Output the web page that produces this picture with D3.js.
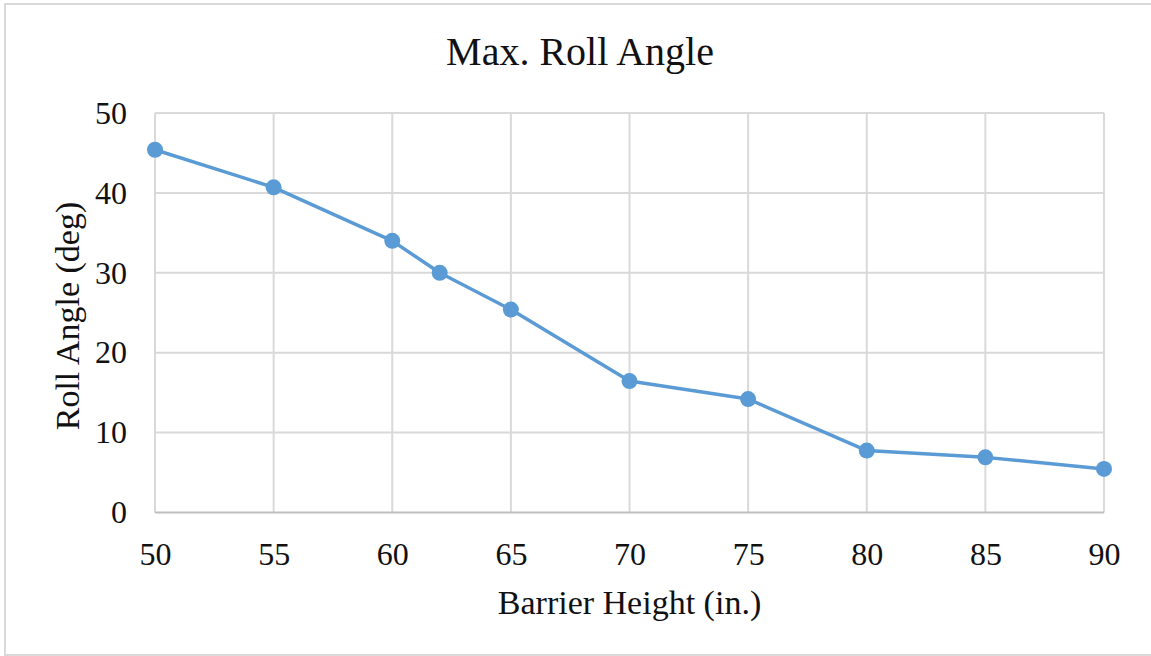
<!DOCTYPE html>
<html><head><meta charset="utf-8">
<script src="https://cdn.jsdelivr.net/npm/d3@7"></script>
<style>body{margin:0;background:#fff;} svg{display:block;} text{font-family:"Liberation Serif","Times New Roman","DejaVu Serif",serif;}</style>
</head><body>
<script>
const barrierHeight = [50, 55, 60, 62, 65, 70, 75, 80, 85, 90];
const rollAngle = [45.4, 40.7, 34.0, 30.0, 25.4, 16.45, 14.2, 7.75, 6.9, 5.45];
const xTicks = [50, 55, 60, 65, 70, 75, 80, 85, 90];
const yTicks = [0, 10, 20, 30, 40, 50];
const titleText = "Max. Roll Angle";
const xTitle = "Barrier Height (in.)";
const yTitle = "Roll Angle (deg)";

const W = 1151, H = 656;
const m = {left: 155, right: 1104, top: 113, bottom: 512.5};

const svg = d3.select("body").append("svg").attr("width", W).attr("height", H);
svg.append("rect").attr("x", 5).attr("y", 4).attr("width", W + 10).attr("height", H - 5)
  .attr("fill", "#fff").attr("stroke", "#d9d9d9").attr("stroke-width", 2);

const x = d3.scaleLinear().domain([50, 90]).range([m.left, m.right]);
const y = d3.scaleLinear().domain([0, 50]).range([m.bottom, m.top]);

const g = svg.append("g");
g.selectAll(".vg").data(xTicks).join("line")
  .attr("x1", d => x(d)).attr("x2", d => x(d)).attr("y1", m.top).attr("y2", m.bottom)
  .attr("stroke", "#d9d9d9").attr("stroke-width", 2);
g.selectAll(".hg").data(yTicks.filter(d => d > 0)).join("line")
  .attr("x1", m.left).attr("x2", m.right).attr("y1", d => y(d)).attr("y2", d => y(d))
  .attr("stroke", "#d9d9d9").attr("stroke-width", 2);
g.append("line").attr("x1", m.left).attr("x2", m.right).attr("y1", y(0)).attr("y2", y(0))
  .attr("stroke", "#bfbfbf").attr("stroke-width", 2);

const xAxis = svg.append("g").attr("transform", `translate(0,${y(0)})`)
  .call(d3.axisBottom(x).tickValues(xTicks).tickSize(0).tickPadding(30));
xAxis.select(".domain").remove();
xAxis.selectAll("text").attr("font-size", 32).attr("fill", "#111");
xAxis.attr("font-family", null);

const yAxis = svg.append("g").attr("transform", `translate(${m.left},0)`)
  .call(d3.axisLeft(y).tickValues(yTicks).tickSize(0).tickPadding(28));
yAxis.select(".domain").remove();
yAxis.selectAll("text").attr("font-size", 32).attr("fill", "#111");
yAxis.attr("font-family", null);

const line = d3.line().x((d, i) => x(barrierHeight[i])).y(d => y(d));
svg.append("path").datum(rollAngle).attr("d", line)
  .attr("fill", "none").attr("stroke", "#5b9bd5").attr("stroke-width", 3.5)
  .attr("stroke-linejoin", "round");
svg.selectAll(".pt").data(rollAngle).join("circle")
  .attr("cx", (d, i) => x(barrierHeight[i])).attr("cy", d => y(d)).attr("r", 8)
  .attr("fill", "#5b9bd5");

svg.append("text").attr("x", 580).attr("y", 65).attr("text-anchor", "middle")
  .attr("font-size", 40).attr("fill", "#111").text(titleText);
svg.append("text").attr("x", (m.left + m.right) / 2).attr("y", 614).attr("text-anchor", "middle")
  .attr("font-size", 34).attr("fill", "#111").text(xTitle);
svg.append("text").attr("transform", `translate(79,316) rotate(-90)`).attr("text-anchor", "middle")
  .attr("font-size", 34).attr("fill", "#111").text(yTitle);
</script>
</body></html>
